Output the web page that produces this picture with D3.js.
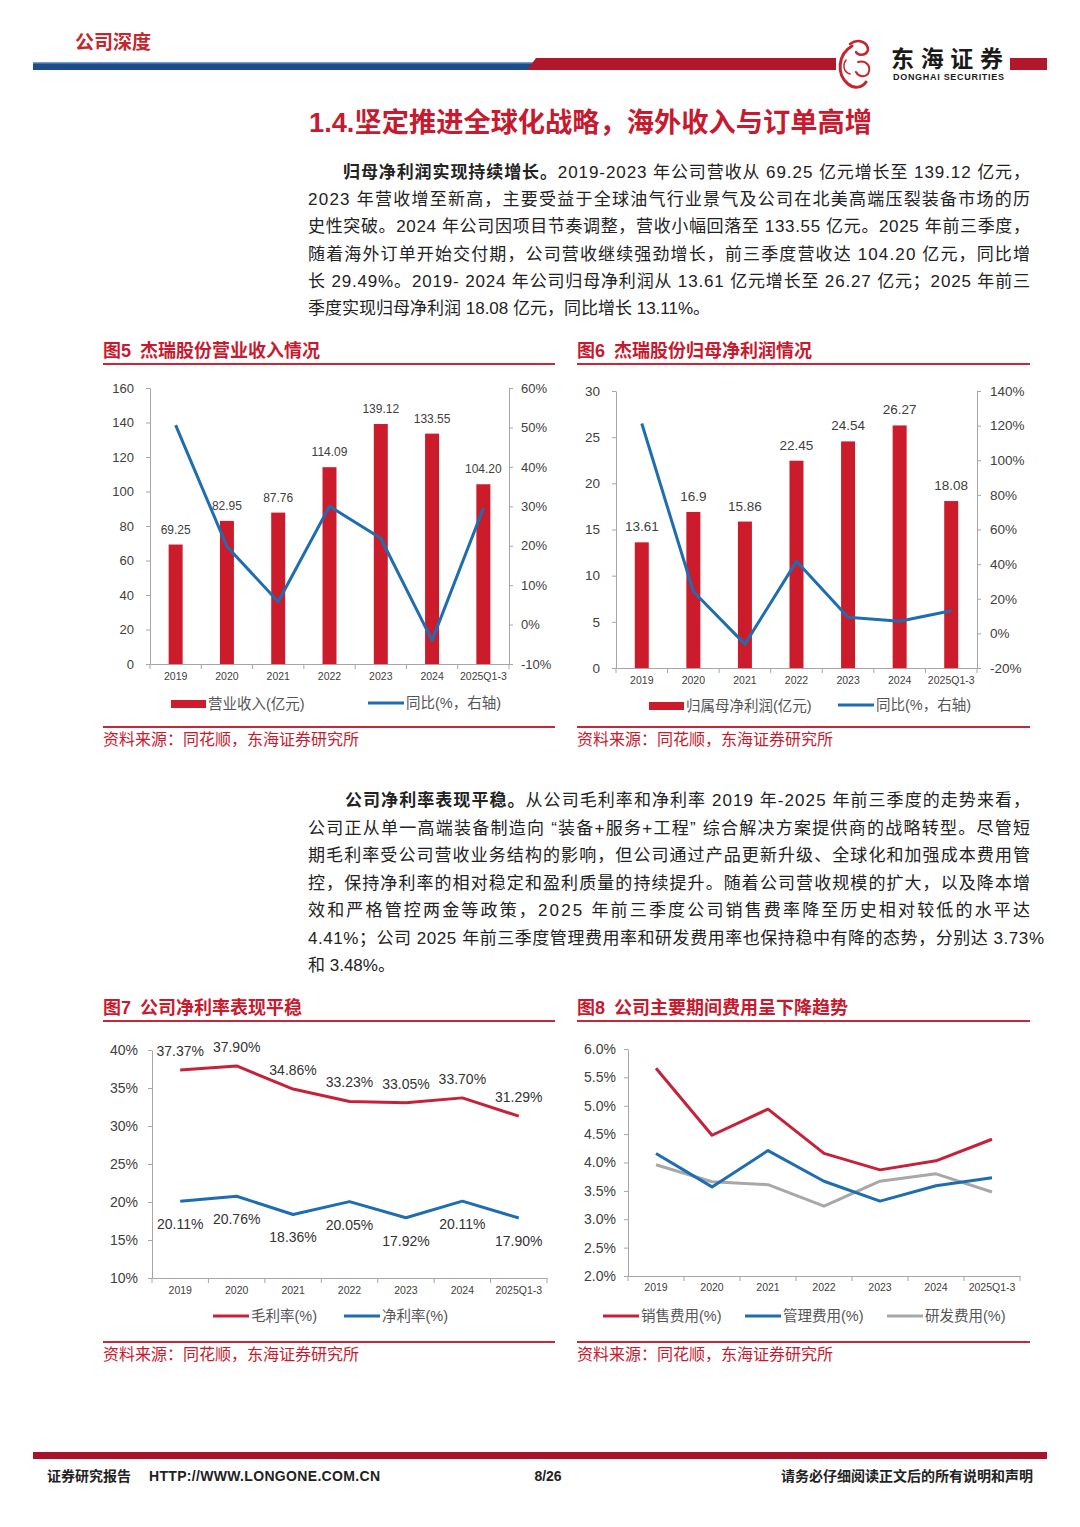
<!DOCTYPE html>
<html><head><meta charset="utf-8">
<script src="https://cdn.jsdelivr.net/npm/d3@7"></script>
<style>
html,body{margin:0;padding:0;background:#fff;}
svg{display:block;}
text{font-family:"Liberation Sans","Noto Sans CJK SC",sans-serif;}
</style></head>
<body>
<svg id="page" width="1080" height="1527"></svg>
<script>
// ---------- data ----------
const years = ["2019","2020","2021","2022","2023","2024","2025Q1-3"];
const revenue = [69.25, 82.95, 87.76, 114.09, 139.12, 133.55, 104.20];
const revenueLabels = ["69.25","82.95","87.76","114.09","139.12","133.55","104.20"];
const revenueYoY = [50.6, 19.8, 5.8, 30.0, 21.9, -4.0, 29.49];
const netProfit = [13.61, 16.9, 15.86, 22.45, 24.54, 26.27, 18.08];
const netProfitLabels = ["13.61","16.9","15.86","22.45","24.54","26.27","18.08"];
const netProfitYoY = [121.2, 24.2, -6.2, 41.6, 9.3, 7.0, 13.11];
const grossMargin = [37.37, 37.90, 34.86, 33.23, 33.05, 33.70, 31.29];
const netMargin = [20.11, 20.76, 18.36, 20.05, 17.92, 20.11, 17.90];
const salesExp = [5.66, 4.48, 4.94, 4.16, 3.87, 4.03, 4.41];
const adminExp = [4.16, 3.57, 4.21, 3.67, 3.32, 3.59, 3.73];
const rdExp = [3.96, 3.66, 3.61, 3.23, 3.67, 3.80, 3.48];
const revTicks = [0,20,40,60,80,100,120,140,160];
const revYoYTicks = [-10,0,10,20,30,40,50,60];
const npTicks = [0,5,10,15,20,25,30];
const npYoYTicks = [-20,0,20,40,60,80,100,120,140];
const marginTicks = [10,15,20,25,30,35,40];
const expTicks = [2.0,2.5,3.0,3.5,4.0,4.5,5.0,5.5,6.0];
const legend5 = ["营业收入(亿元)","同比(%，右轴)"];
const legend6 = ["归属母净利润(亿元)","同比(%，右轴)"];
const legend7 = ["毛利率(%)","净利率(%)"];
const legend8 = ["销售费用(%)","管理费用(%)","研发费用(%)"];

const RED = "#CC1C2C", BLUE = "#1F6DB1", GRAY = "#A8A8A8", LRED = "#C7213A";
const AX = "#A6A6A6", TXT = "#404040";
const svg = d3.select("#page");

// ---------- header ----------
svg.append("text").attr("x",75).attr("y",49).attr("fill","#C4262E").attr("font-size",19).attr("font-weight","bold").text("公司深度");
svg.append("rect").attr("x",33).attr("y",62).attr("width",500).attr("height",8).attr("fill","#1E4B8A");
svg.append("rect").attr("x",33).attr("y",62).attr("width",500).attr("height",1.5).attr("fill","#6F9FD0");
svg.append("path").attr("d","M536,58 L836,58 L836,70 L527,70 Z").attr("fill","#B3172B");
svg.append("rect").attr("x",1010).attr("y",58).attr("width",37).attr("height",12).attr("fill","#B3172B");
// logo
const lg = svg.append("g").attr("fill","none").attr("stroke","#C4262E").attr("stroke-linecap","round");
lg.append("path").attr("d","M852,46 C838,54 836,74 848,84 C854,89 862,88 866,82").attr("stroke-width",3);
lg.append("path").attr("d","M850,44 C858,38 868,42 868,50 C866,56 858,56 856,52").attr("stroke-width",2.5);
lg.append("path").attr("d","M858,62 C866,60 872,66 868,74 C864,78 858,76 856,72").attr("stroke-width",2);
lg.append("path").attr("d","M846,60 C842,66 844,72 850,74").attr("stroke-width",1.5);
svg.append("text").attr("x",891).attr("y",67).attr("font-size",23).attr("font-weight","bold").attr("fill","#1a1a1a")
  .attr("font-family","Noto Sans CJK SC").attr("textLength",112).text("东海证券");
svg.append("text").attr("x",893).attr("y",80).attr("font-size",9).attr("font-weight","bold").attr("fill","#1a1a1a")
  .attr("textLength",111).text("DONGHAI SECURITIES");

// ---------- section title ----------
svg.append("text").attr("x",309).attr("y",132).attr("font-size",27).attr("font-weight","bold").attr("fill","#C8192E")
  .attr("textLength",563).attr("lengthAdjust","spacingAndGlyphs").text("1.4.坚定推进全球化战略，海外收入与订单高增");

// ---------- paragraphs ----------
function para(lines, x0, xIndent, y0, lh){
  lines.forEach((ln,i)=>{
    const t = svg.append("text").attr("x", i===0? xIndent : x0).attr("y", y0 + i*lh)
      .attr("font-size",17).attr("fill","#222");
    if(ln.bold){ t.append("tspan").attr("font-weight","bold").text(ln.bold); }
    t.append("tspan").text(ln.t);
    if(ln.end){ t.attr("textLength", ln.end - (i===0? xIndent : x0)).attr("lengthAdjust","spacing"); }
  });
}
para([
  {bold:"归母净利润实现持续增长。", t:"2019-2023 年公司营收从 69.25 亿元增长至 139.12 亿元，", end:1030},
  {t:"2023  年营收增至新高，主要受益于全球油气行业景气及公司在北美高端压裂装备市场的历", end:1030},
  {t:"史性突破。2024 年公司因项目节奏调整，营收小幅回落至 133.55 亿元。2025 年前三季度，", end:1030},
  {t:"随着海外订单开始交付期，公司营收继续强劲增长，前三季度营收达 104.20 亿元，同比增", end:1030},
  {t:"长 29.49%。2019- 2024 年公司归母净利润从 13.61 亿元增长至 26.27 亿元；2025 年前三", end:1030},
  {t:"季度实现归母净利润 18.08 亿元，同比增长 13.11%。"}
], 308, 343, 178, 27.2);
para([
  {bold:"公司净利率表现平稳。", t:"从公司毛利率和净利率 2019 年-2025 年前三季度的走势来看，", end:1030},
  {t:"公司正从单一高端装备制造向 “装备+服务+工程” 综合解决方案提供商的战略转型。尽管短", end:1030},
  {t:"期毛利率受公司营收业务结构的影响，但公司通过产品更新升级、全球化和加强成本费用管", end:1030},
  {t:"控，保持净利率的相对稳定和盈利质量的持续提升。随着公司营收规模的扩大，以及降本增", end:1030},
  {t:"效和严格管控两金等政策，2025  年前三季度公司销售费率降至历史相对较低的水平达", end:1030},
  {t:"4.41%；公司 2025 年前三季度管理费用率和研发费用率也保持稳中有降的态势，分别达 3.73%", end:1044},
  {t:"和 3.48%。"}
], 308, 345, 806, 27.5);

// ---------- figure frames ----------
function frame(x, w, yTitle, ySrc, num, title){
  const t = svg.append("text").attr("x",x).attr("y",yTitle).attr("font-size",18).attr("font-weight","bold").attr("fill","#C8192E");
  t.append("tspan").text(num);
  t.append("tspan").attr("dx",9).text(title);
  svg.append("rect").attr("x",x).attr("y",yTitle+6).attr("width",w).attr("height",2).attr("fill","#C22A3C");
  svg.append("rect").attr("x",x).attr("y",ySrc).attr("width",w).attr("height",2).attr("fill","#C22A3C");
  svg.append("text").attr("x",x).attr("y",ySrc+19).attr("font-size",16).attr("fill","#C8192E").text("资料来源：同花顺，东海证券研究所");
}
frame(103,452,357,726,"图5","杰瑞股份营业收入情况");
frame(577,453,357,726,"图6","杰瑞股份归母净利润情况");
frame(103,452,1014,1341,"图7","公司净利率表现平稳");
frame(577,453,1014,1341,"图8","公司主要期间费用呈下降趋势");

// ---------- helpers ----------
function styleAxis(g, fs){
  g.selectAll(".domain").attr("stroke",AX);
  g.selectAll(".tick line").attr("stroke",AX);
  g.selectAll(".tick text").attr("fill",TXT).attr("font-size",fs).attr("font-family","Liberation Sans, sans-serif");
}
function xCatAxis(x, y, fs, dy){
  const g = svg.append("g").attr("transform",`translate(0,${y})`)
    .call(d3.axisBottom(x).tickSize(0).tickPadding(dy).tickSizeOuter(0));
  styleAxis(g, fs);
  const bounds = x.domain().map(d=>x(d)).concat([x.range()[1]]);
  g.selectAll("line.sep").data(bounds).join("line").attr("class","sep")
    .attr("x1",d=>d).attr("x2",d=>d).attr("y1",0).attr("y2",5).attr("stroke",AX);
  return g;
}
function legendRect(x, y, label){
  svg.append("rect").attr("x",x).attr("y",y-4).attr("width",35).attr("height",8).attr("fill",RED);
  svg.append("text").attr("x",x+37).attr("y",y+5).attr("font-size",14.5).attr("fill","#555").text(label);
}
function legendLine(x, y, color, label){
  svg.append("line").attr("x1",x).attr("x2",x+36).attr("y1",y).attr("y2",y).attr("stroke",color).attr("stroke-width",3);
  svg.append("text").attr("x",x+38).attr("y",y+5).attr("font-size",14.5).attr("fill","#555").text(label);
}

// ---------- Fig 5 ----------
(function(){
  const x = d3.scaleBand().domain(years).range([150,509]);
  const yL = d3.scaleLinear().domain([0,160]).range([664,388]);
  const yR = d3.scaleLinear().domain([-10,60]).range([664,388]);
  const gl = svg.append("g").attr("transform","translate(150,0)")
    .call(d3.axisLeft(yL).tickValues(revTicks).tickSize(4).tickPadding(12).tickSizeOuter(0));
  styleAxis(gl, 13);
  const gr = svg.append("g").attr("transform","translate(509,0)")
    .call(d3.axisRight(yR).tickValues(revYoYTicks).tickSize(4).tickPadding(8).tickSizeOuter(0).tickFormat(d=>d+"%"));
  styleAxis(gr, 13);
  const bw = 14;
  svg.append("g").selectAll("rect").data(revenue).join("rect")
    .attr("x",(d,i)=>x(years[i])+x.bandwidth()/2-bw/2).attr("width",bw)
    .attr("y",d=>yL(d)).attr("height",d=>yL(0)-yL(d)).attr("fill",RED);
  xCatAxis(x, 664, 10.5, 9);
  svg.append("path").datum(revenueYoY).attr("fill","none").attr("stroke",BLUE).attr("stroke-width",3).attr("stroke-linejoin","round")
    .attr("d", d3.line().x((d,i)=>x(years[i])+x.bandwidth()/2).y(d=>yR(d)));
  svg.append("g").selectAll("text").data(revenue).join("text")
    .attr("x",(d,i)=>x(years[i])+x.bandwidth()/2).attr("y",d=>yL(d)-11).attr("text-anchor","middle")
    .attr("font-size",12).attr("fill",TXT).text((d,i)=>revenueLabels[i]);
  legendRect(171,704,legend5[0]);
  legendLine(368,703,BLUE,legend5[1]);
})();

// ---------- Fig 6 ----------
(function(){
  const x = d3.scaleBand().domain(years).range([616,977]);
  const yL = d3.scaleLinear().domain([0,30]).range([668,391]);
  const yR = d3.scaleLinear().domain([-20,140]).range([668,391]);
  const gl = svg.append("g").attr("transform","translate(616,0)")
    .call(d3.axisLeft(yL).tickValues(npTicks).tickSize(4).tickPadding(12).tickSizeOuter(0));
  styleAxis(gl, 13.5);
  const gr = svg.append("g").attr("transform","translate(977,0)")
    .call(d3.axisRight(yR).tickValues(npYoYTicks).tickSize(4).tickPadding(9).tickSizeOuter(0).tickFormat(d=>d+"%"));
  styleAxis(gr, 13.5);
  const bw = 14;
  svg.append("g").selectAll("rect").data(netProfit).join("rect")
    .attr("x",(d,i)=>x(years[i])+x.bandwidth()/2-bw/2).attr("width",bw)
    .attr("y",d=>yL(d)).attr("height",d=>yL(0)-yL(d)).attr("fill",RED);
  xCatAxis(x, 668, 10.5, 9);
  svg.append("path").datum(netProfitYoY).attr("fill","none").attr("stroke",BLUE).attr("stroke-width",3).attr("stroke-linejoin","round")
    .attr("d", d3.line().x((d,i)=>x(years[i])+x.bandwidth()/2).y(d=>yR(d)));
  svg.append("g").selectAll("text").data(netProfit).join("text")
    .attr("x",(d,i)=>x(years[i])+x.bandwidth()/2).attr("y",d=>yL(d)-11).attr("text-anchor","middle")
    .attr("font-size",13.5).attr("fill",TXT).text((d,i)=>netProfitLabels[i]);
  legendRect(649,706,legend6[0]);
  legendLine(838,705,BLUE,legend6[1]);
})();

// ---------- Fig 7 ----------
(function(){
  const x = d3.scaleBand().domain(years).range([152,547]);
  const y = d3.scaleLinear().domain([10,40]).range([1278,1050]);
  const gl = svg.append("g").attr("transform","translate(152,0)")
    .call(d3.axisLeft(y).tickValues(marginTicks).tickSize(4).tickPadding(10).tickSizeOuter(0).tickFormat(d=>d+"%"));
  styleAxis(gl, 14);
  xCatAxis(x, 1278, 10.5, 9);
  const cx = (d,i)=>x(years[i])+x.bandwidth()/2;
  [[grossMargin,LRED],[netMargin,BLUE]].forEach(([arr,c])=>{
    svg.append("path").datum(arr).attr("fill","none").attr("stroke",c).attr("stroke-width",3).attr("stroke-linejoin","round")
      .attr("d", d3.line().x(cx).y(d=>y(d)));
  });
  svg.append("g").selectAll("text").data(grossMargin).join("text")
    .attr("x",cx).attr("y",d=>y(d)-14).attr("text-anchor","middle").attr("font-size",14).attr("fill","#333")
    .text(d=>d.toFixed(2)+"%");
  svg.append("g").selectAll("text").data(netMargin).join("text")
    .attr("x",cx).attr("y",d=>y(d)+28).attr("text-anchor","middle").attr("font-size",14).attr("fill","#333")
    .text(d=>d.toFixed(2)+"%");
  legendLine(213,1316,LRED,legend7[0]);
  legendLine(344,1316,BLUE,legend7[1]);
})();

// ---------- Fig 8 ----------
(function(){
  const x = d3.scaleBand().domain(years).range([628,1020]);
  const y = d3.scaleLinear().domain([2,6]).range([1276,1049]);
  const gl = svg.append("g").attr("transform","translate(628,0)")
    .call(d3.axisLeft(y).tickValues(expTicks).tickSize(4).tickPadding(8).tickSizeOuter(0).tickFormat(d=>d.toFixed(1)+"%"));
  styleAxis(gl, 14);
  xCatAxis(x, 1276, 10.5, 8);
  const cx = (d,i)=>x(years[i])+x.bandwidth()/2;
  [[rdExp,GRAY],[adminExp,BLUE],[salesExp,LRED]].forEach(([arr,c])=>{
    svg.append("path").datum(arr).attr("fill","none").attr("stroke",c).attr("stroke-width",3).attr("stroke-linejoin","round")
      .attr("d", d3.line().x(cx).y(d=>y(d)));
  });
  legendLine(603,1316,LRED,legend8[0]);
  legendLine(745,1316,BLUE,legend8[1]);
  legendLine(887,1316,GRAY,legend8[2]);
})();

// ---------- footer ----------
svg.append("rect").attr("x",33).attr("y",1452).attr("width",1014).attr("height",7).attr("fill","#A8122A");
svg.append("text").attr("x",47).attr("y",1481).attr("font-size",14).attr("font-weight","bold").attr("fill","#222").text("证券研究报告");
svg.append("text").attr("x",149).attr("y",1481).attr("font-size",14).attr("font-weight","bold").attr("fill","#222").attr("textLength",231).text("HTTP://WWW.LONGONE.COM.CN");
svg.append("text").attr("x",548).attr("y",1481).attr("font-size",14).attr("font-weight","bold").attr("fill","#222").attr("text-anchor","middle").text("8/26");
svg.append("text").attr("x",1033).attr("y",1481).attr("font-size",14).attr("font-weight","bold").attr("fill","#222").attr("text-anchor","end").text("请务必仔细阅读正文后的所有说明和声明");
</script>
</body></html>
